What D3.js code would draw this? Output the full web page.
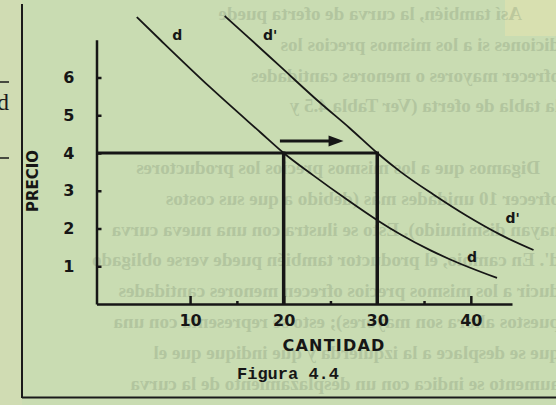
<!DOCTYPE html>
<html>
<head>
<meta charset="utf-8">
<script src="https://cdn.jsdelivr.net/npm/d3@7"></script>
<style>
  body { margin: 0; background: #c9dcb2; overflow: hidden; }
  svg { display: block; }
</style>
</head>
<body>
<div id="chart"></div>
<script>
// constants
const w = 556,
      h = 405;

// axis ticks
const priceTicks = [1, 2, 3, 4, 5, 6];
const qtyTicks = [10, 20, 30, 40];
const qtyMinor = [15, 25, 35];

// curve d
const dQty   = [4.3, 6.8, 12.1, 17.5, 20, 23.2, 26.8, 30, 32.5, 35.7, 37.8, 42.8];
const dPrice = [7.6, 7.0, 5.75, 4.55, 4.0, 3.40, 2.76, 2.22, 1.84, 1.42, 1.18, 0.69];
// curve d'
const d2Qty   = [13.7, 16.2, 19.6, 23.8, 27.1, 30, 32.5, 36.0, 39.6, 43.2, 46.7];
const d2Price = [7.63, 7.07, 6.30, 5.35, 4.65, 4.0, 3.5, 2.90, 2.33, 1.83, 1.43];

// price line and the shift
const price = 4,
      qtyOld = 20,
      qtyNew = 30;
const arrowFrom = 19.6,
      arrowTo = 26.4,
      arrowPrice = 4.32;

// curve labels
const labelText  = ["d", "d'", "d'", "d"];
const labelQty   = [8.1, 17.8, 43.7, 39.6];
const labelPrice = [7.0, 7.0, 2.15, 1.11];

// text of the other side of the page, showing through
const backText = [
  "Así también, la curva de oferta puede",
  "diciones si a los mismos precios los",
  "ofrecer mayores o menores cantidades",
  "la tabla de oferta (Ver Tabla 4.5 y",
  "",
  "Digamos que a los mismos precios los productores",
  "ofrecer 10 unidades más (debido a que sus costos",
  "hayan disminuido). Esto se ilustra con una nueva curva",
  "d'. En cambio, el productor también puede verse obligado",
  "ducir a los mismos precios ofrecen menores cantidades",
  "puestos ahora son mayores); esto se representa con una",
  "que se desplace a la izquierda y que indique que el",
  "aumento se indica con un desplazamiento de la curva"
];

let chart = d3.select("#chart")
              .append("svg")
              .attr("width", w)
              .attr("height", h);

// paper
chart.append("rect")
     .attr("width", w)
     .attr("height", h)
     .attr("fill", "#c9dcb2");
chart.append("rect")
     .attr("x", 0).attr("y", 0)
     .attr("width", 22).attr("height", h)
     .attr("fill", "#d0dcb3");
chart.append("rect")
     .attr("x", 505).attr("y", 0)
     .attr("width", 51).attr("height", 36)
     .attr("fill", "#d8e0b0");

// show-through, mirrored
chart.append("g")
     .attr("transform", `translate(${w}, 0) scale(-1, 1)`)
     .attr("opacity", 0.3)
     .selectAll("text")
     .data(backText)
     .enter()
     .append("text")
     .attr("x", (d, i) => w - (i == 0 ? 522 : (i == 5 ? 540 : 560)))
     .attr("y", (d, i) => 20 + i * 30.8)
     .attr("font-family", "Liberation Serif")
     .attr("font-weight", "bold")
     .attr("font-size", 19)
     .attr("fill", "#7f9274")
     .text(d => d);

// page frame
chart.append("line")
     .attr("x1", 22).attr("y1", 4).attr("x2", 22).attr("y2", 398)
     .attr("stroke", "#1a1a1a").attr("stroke-width", 2);
chart.append("line")
     .attr("x1", 22).attr("y1", 397.5).attr("x2", w).attr("y2", 397.5)
     .attr("stroke", "#1a1a1a").attr("stroke-width", 2);
[82, 158].forEach(yy => {
  chart.append("line")
       .attr("x1", 0).attr("y1", yy).attr("x2", 9).attr("y2", yy)
       .attr("stroke", "#1a1a1a").attr("stroke-width", 1.5);
});
chart.append("text")
     .attr("x", -3).attr("y", 110)
     .attr("font-family", "Liberation Serif")
     .attr("font-size", 24)
     .attr("fill", "#1a1a1a")
     .text("d");

// scales
let xScale = d3.scaleLinear()
               .domain([0, 44.4])
               .range([96.5, 512]);
let yScale = d3.scaleLinear()
               .domain([0, 7])
               .range([304, 39.75]);

// x-axis
let xAxis = d3.axisBottom(xScale)
              .tickValues(qtyTicks)
              .tickFormat(d3.format("d"))
              .tickSizeInner(-8)
              .tickSizeOuter(0)
              .tickPadding(11);
chart.append("g")
     .attr("id", "x-axis")
     .attr("transform", `translate(0, ${yScale(0)})`)
     .call(xAxis);
let xMinor = d3.axisBottom(xScale)
               .tickValues(qtyMinor)
               .tickSizeInner(-3)
               .tickSizeOuter(0)
               .tickFormat("");
chart.append("g")
     .attr("transform", `translate(0, ${yScale(0)})`)
     .call(xMinor)
     .select(".domain").remove();

// y-axis
let yAxis = d3.axisLeft(yScale)
              .tickValues(priceTicks)
              .tickFormat(d3.format("d"))
              .tickSizeInner(-5)
              .tickSizeOuter(0)
              .tickPadding(22);
chart.append("g")
     .attr("id", "y-axis")
     .attr("transform", `translate(${xScale(0)}, 0)`)
     .call(yAxis);

chart.selectAll(".domain, .tick line")
     .attr("stroke", "#161616")
     .attr("stroke-width", 2.5);
chart.selectAll(".tick text")
     .attr("font-family", "DejaVu Sans")
     .attr("font-weight", "bold")
     .attr("font-size", 16)
     .attr("fill", "#161616");

// price line and quantities
chart.append("line")
     .attr("x1", xScale(0)).attr("y1", yScale(price))
     .attr("x2", xScale(qtyNew)).attr("y2", yScale(price))
     .attr("stroke", "#161616").attr("stroke-width", 3);
[qtyOld, qtyNew].forEach(q => {
  chart.append("line")
       .attr("x1", xScale(q)).attr("y1", yScale(price) - 1.5)
       .attr("x2", xScale(q)).attr("y2", yScale(0))
       .attr("stroke", "#161616").attr("stroke-width", 3.5);
});

// curves
let line = d3.line()
             .x(p => xScale(p[0]))
             .y(p => yScale(p[1]))
             .curve(d3.curveMonotoneX);
[[dQty, dPrice], [d2Qty, d2Price]].forEach(c => {
  chart.append("path")
       .datum(c[0].map((q, i) => [q, c[1][i]]))
       .attr("d", line)
       .attr("fill", "none")
       .attr("stroke", "#161616")
       .attr("stroke-width", 1.8);
});

// arrow
let ay = yScale(arrowPrice);
chart.append("line")
     .attr("x1", xScale(arrowFrom)).attr("y1", ay)
     .attr("x2", xScale(arrowTo) - 12).attr("y2", ay)
     .attr("stroke", "#161616").attr("stroke-width", 3);
chart.append("path")
     .attr("d", `M${xScale(arrowTo)},${ay} L${xScale(arrowTo) - 15},${ay - 5.5} L${xScale(arrowTo) - 15},${ay + 5.5} Z`)
     .attr("fill", "#161616");

// curve labels
chart.selectAll(".lbl")
     .data(labelText)
     .enter()
     .append("text")
     .attr("class", "lbl")
     .attr("x", (d, i) => xScale(labelQty[i]))
     .attr("y", (d, i) => yScale(labelPrice[i]))
     .attr("font-family", "DejaVu Sans")
     .attr("font-weight", "bold")
     .attr("font-size", 14)
     .attr("fill", "#161616")
     .text(d => d);

// axis titles
chart.append("text")
     .attr("transform", `translate(38, 181) rotate(-90)`)
     .attr("text-anchor", "middle")
     .attr("font-family", "DejaVu Sans")
     .attr("font-weight", "bold")
     .attr("font-size", 15)
     .attr("fill", "#161616")
     .text("PRECIO");
chart.append("text")
     .attr("x", 334).attr("y", 351)
     .attr("text-anchor", "middle")
     .attr("font-family", "DejaVu Sans")
     .attr("font-weight", "bold")
     .attr("font-size", 16)
     .attr("letter-spacing", 1.2)
     .attr("fill", "#161616")
     .text("CANTIDAD");
chart.append("text")
     .attr("x", 288).attr("y", 379)
     .attr("text-anchor", "middle")
     .attr("font-family", "Liberation Mono")
     .attr("font-weight", "bold")
     .attr("font-size", 17)
     .attr("fill", "#161616")
     .text("Figura 4.4");
</script>
</body>
</html>
